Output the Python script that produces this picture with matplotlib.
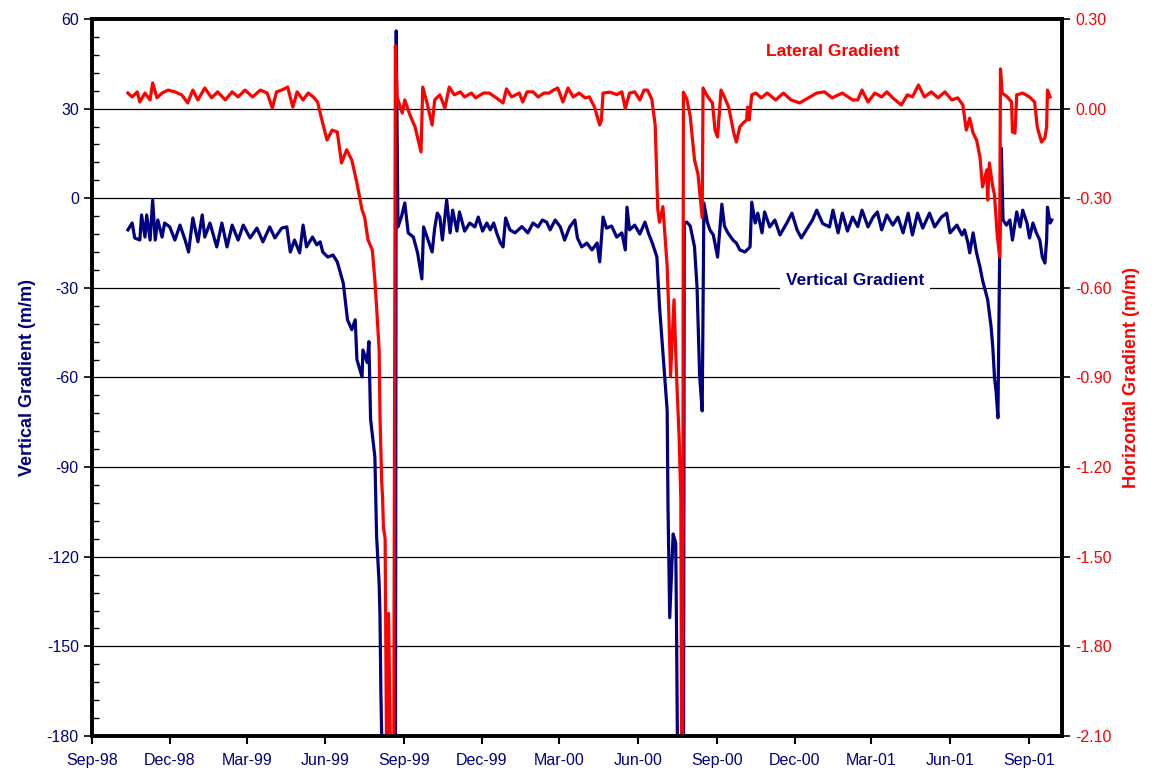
import matplotlib
matplotlib.use('Agg')
import matplotlib.pyplot as plt
import matplotlib.dates as mdates
from matplotlib.ticker import MultipleLocator, FormatStrFormatter
import pandas as pd

plt.rcParams['font.family'] = ['Liberation Sans', 'DejaVu Sans']
plt.rcParams['axes.unicode_minus'] = False

START = pd.Timestamp('1998-09-01')
END = pd.Timestamp('2001-10-10')

# vertical gradient (left axis), days counted from START
vert_days = [42, 47, 50, 56, 58, 62, 64, 68, 71, 74, 77, 82, 85, 91, 97, 103, 109, 113, 118,
             124, 129, 132, 138, 146, 152, 158, 164, 171, 177, 185, 193, 200, 208, 214, 222,
             228, 232, 237, 243, 247, 251, 258, 263, 267, 270, 276, 282, 287, 292, 294, 299,
             304, 308, 310, 316, 317, 322, 324, 326, 331, 333, 336, 337, 338, 340, 345, 355,
             356, 358, 362, 366, 370, 376, 381, 386, 388, 392, 398, 401, 404, 407, 410, 415,
             419, 422, 427, 430, 436, 442, 448, 452, 457, 462, 466, 470, 474, 478, 481, 484,
             489, 495, 503, 510, 516, 522, 527, 532, 536, 542, 548, 553, 559, 565, 568, 573,
             579, 585, 591, 594, 598, 602, 608, 614, 620, 624, 626, 629, 635, 641, 647, 651,
             656, 661, 664, 667, 670, 673, 674, 676, 680, 683, 684, 686, 692, 693, 696, 700,
             705, 708, 711, 714, 716, 720, 723, 727, 732, 737, 740, 744, 750, 754, 758, 764,
             770, 772, 776, 779, 784, 787, 793, 799, 805, 813, 819, 825, 830, 836, 843, 848,
             855, 863, 867, 873, 878, 884, 890, 896, 901, 908, 914, 919, 924, 930, 937, 943,
             949, 955, 960, 966, 972, 980, 986, 994, 1000, 1004, 1012, 1018, 1021, 1025, 1027,
             1031, 1035, 1039, 1042, 1048, 1052, 1054, 1056, 1058, 1060, 1062, 1064, 1066,
             1070, 1074, 1077, 1082, 1086, 1089, 1094, 1097, 1101, 1105, 1109, 1112, 1115,
             1117, 1118, 1121, 1123]
vert_vals = [-10.6, -8.3, -13.3, -14, -5.6, -13, -5.6, -14, -0.6, -14, -7.3, -13, -8.3, -9.6,
             -14, -9, -14, -18, -6.6, -14.6, -5.6, -13, -8.3, -16.3, -8.3, -16.3, -9, -14, -9,
             -13.3, -10, -14.6, -9.6, -13.3, -10, -9.6, -18, -14, -18.3, -9, -16.3, -13, -15.6,
             -14.6, -18, -19.7, -19, -21.3, -26.4, -28.4, -40.7, -44, -40.7, -54, -59.8, -50.8,
             -55, -48, -74, -86.6, -113, -129, -140, -165, -195, -220, -220,
             56, -9.6, -6.3, -1.6, -11.6, -13, -18.3, -27, -9.6, -13, -18, -10, -5, -6.3, -14,
             -0.6, -11.6, -4, -11, -4.6, -11, -8.3, -9.6, -6.3, -11, -8.3, -10.6, -8.3, -12,
             -15, -16.3, -6.6, -10.6, -11.6, -9.5, -11.6, -8.3, -9.6, -7.3, -8, -10.6, -7.3,
             -9.6, -14, -9.6, -7.3, -13.3, -16.3, -15, -17.3, -15, -21.3, -6.3, -10, -9.3, -13,
             -11.6, -17.3, -3, -10.6, -9, -12, -8, -11.6, -15.3, -19.7, -36, -47.8, -59.5, -71,
             -103.6, -140.4, -112.4, -115.4, -144.8, -220, -220, -8.3, -8, -9.3, -16.3, -30,
             -59.5, -71.2, -1.6, -8, -10.6, -12.3, -19.7, -2, -9.3, -11.6, -14, -15, -17.3, -18,
             -16.3, -1.3, -8.3, -5, -11.6, -4.6, -9.6, -7.3, -12.3, -8.3, -5, -10.6, -13.3,
             -10.5, -7.3, -4, -8.5, -9.6, -4, -11.6, -5, -11, -6.3, -9.5, -4, -9.6, -6.3, -4.6,
             -10.6, -5.6, -9, -6.3, -11.6, -5, -12.3, -5, -10, -5, -9.6, -6.3, -5, -11.6, -9,
             -12.3, -10.6, -15, -18.3, -11.6, -18.3, -23, -27.4, -34, -43, -49.8, -60, -65,
             -73.5, -19.7, 16.8, -7.3, -9, -7.3, -14, -4.6, -9.6, -4, -8.3, -13.3, -8.3, -11.6,
             -14, -19.7, -21.7, -14, -3, -8.3, -7.3]

# lateral gradient (right axis), days counted from START
lat_days = [42, 47, 53, 56, 62, 68, 71, 76, 82, 89, 97, 105, 112, 118, 124, 132, 140, 147,
            156, 164, 171, 179, 188, 197, 205, 211, 216, 222, 229, 235, 240, 247, 253, 259,
            264, 269, 275, 281, 287, 292, 298, 304, 310, 316, 319, 323, 328, 331, 333, 336,
            337, 339, 340, 341, 343, 345, 347, 350, 353, 355, 357, 363, 366, 372, 378, 385,
            387, 392, 398, 401, 407, 413, 418, 424, 431, 436, 444, 449, 458, 465, 473, 481,
            485, 491, 500, 504, 509, 516, 522, 529, 535, 540, 545, 551, 557, 563, 570, 577,
            582, 588, 594, 596, 598, 606, 614, 620, 624, 629, 635, 641, 646, 650, 655, 659,
            662, 664, 668, 673, 675, 677, 681, 684, 687, 689, 690, 691, 692, 696, 700, 705,
            709, 711, 714, 715, 719, 723, 726, 729, 732, 736, 740, 745, 751, 754, 758, 762,
            766, 767, 769, 772, 777, 783, 790, 800, 809, 818, 828, 848, 857, 866, 878, 890,
            896, 901, 908, 916, 924, 930, 937, 947, 954, 960, 967, 974, 982, 990, 998, 1006,
            1013, 1019, 1023, 1027, 1031, 1035, 1039, 1042, 1047, 1048, 1050, 1054, 1056,
            1059, 1062, 1063, 1065, 1071, 1076, 1077, 1080, 1082, 1089, 1097, 1103, 1106,
            1111, 1115, 1117, 1118, 1121]
lat_vals = [0.052, 0.039, 0.056, 0.022, 0.052, 0.029, 0.086, 0.036, 0.052, 0.062, 0.056,
            0.046, 0.019, 0.062, 0.029, 0.069, 0.036, 0.056, 0.029, 0.056, 0.039, 0.062,
            0.039, 0.062, 0.052, 0.002, 0.056, 0.062, 0.072, 0.005, 0.056, 0.029, 0.052,
            0.039, 0.022, -0.038, -0.105, -0.072, -0.078, -0.182, -0.138, -0.172, -0.249,
            -0.339, -0.363, -0.44, -0.473, -0.574, -0.664, -0.808, -1.03, -1.25, -1.30, -1.40,
            -1.44, -2.3, -1.69, -2.3, -2.3, 0.21, 0.039, -0.015, 0.029, -0.021, -0.061,
            -0.145, 0.072, 0.019, -0.055, 0.029, 0.046, 0.002, 0.072, 0.046, 0.056, 0.039,
            0.052, 0.036, 0.052, 0.052, 0.036, 0.019, 0.066, 0.039, 0.052, 0.022, 0.056,
            0.056, 0.039, 0.052, 0.052, 0.062, 0.069, 0.022, 0.069, 0.039, 0.052, 0.036,
            0.039, 0.005, -0.055, -0.04, 0.052, 0.055, 0.047, 0.056, 0.0, 0.052, 0.056,
            0.029, 0.062, 0.062, 0.032, -0.055, -0.336, -0.38, -0.328, -0.527, -0.689,
            -0.895, -0.64, -0.895, -1.10, -1.306, -2.3, -2.3, 0.055, 0.032, -0.026, -0.172,
            -0.218, -0.276, -0.365, 0.069, 0.047, 0.03, 0.019, -0.072, -0.095, 0.062, 0.039,
            0.005, -0.082, -0.112, -0.061, -0.048, -0.038, 0.005, -0.038, 0.046, 0.052,
            0.036, 0.052, 0.029, 0.052, 0.029, 0.019, 0.052, 0.056, 0.036, 0.052, 0.029,
            0.029, 0.062, 0.022, 0.052, 0.039, 0.056, 0.036, 0.012, 0.046, 0.039, 0.079,
            0.039, 0.056, 0.036, 0.056, 0.029, 0.036, 0.012, -0.072, -0.032, -0.082, -0.105,
            -0.162, -0.262, -0.205, -0.306, -0.182, -0.262, -0.289, -0.416, -0.497, 0.133,
            0.052, 0.039, 0.022, -0.078, -0.082, 0.046, 0.052, 0.039, 0.022, -0.061, -0.112,
            -0.098, -0.061, 0.062, 0.039]

vert_dates = START + pd.to_timedelta(vert_days, unit='D')
lat_dates = START + pd.to_timedelta(lat_days, unit='D')

NAVY = '#000080'
RED = '#ff0000'

fig = plt.figure(figsize=(11.57, 7.71), dpi=100)
ax = fig.add_axes([0.0795, 0.0454, 0.8384, 0.930])
ax2 = ax.twinx()

ax.plot(vert_dates, vert_vals, color=NAVY, lw=2.3, solid_joinstyle='round')
ax2.plot(lat_dates, lat_vals, color=RED, lw=2.3, solid_joinstyle='round')

# left axis
ax.set_ylim(-180, 60)
ax.yaxis.set_major_locator(MultipleLocator(30))
ax.yaxis.set_minor_locator(MultipleLocator(6))
ax.grid(axis='y', which='major', color='black', lw=0.9)
ax.tick_params(axis='y', which='major', direction='out', length=6, width=1.2,
               labelsize=11.5, labelcolor=NAVY)
ax.tick_params(axis='y', which='minor', direction='in', length=5, width=1.0)
ax.set_ylabel('Vertical Gradient (m/m)', color=NAVY, fontsize=13, fontweight='bold',
              labelpad=8)

# right axis
ax2.set_ylim(-2.10, 0.30)
ax2.yaxis.set_major_locator(MultipleLocator(0.30))
ax2.yaxis.set_major_formatter(FormatStrFormatter('%.2f'))
ax2.tick_params(axis='y', direction='out', length=6, width=1.2, labelsize=11.5,
                labelcolor=RED)
ax2.set_ylabel('Horizontal Gradient (m/m)', color=RED, fontsize=13, fontweight='bold',
               labelpad=8)

# date axis
ax.set_xlim(START, END)
ax.xaxis.set_major_locator(mdates.MonthLocator(bymonth=[3, 6, 9, 12]))
ax.xaxis.set_major_formatter(mdates.DateFormatter('%b-%y'))
ax.tick_params(axis='x', direction='out', length=6, width=1.5, labelsize=11.5,
               labelcolor=NAVY, pad=6)

for a in (ax, ax2):
    for s in a.spines.values():
        s.set_linewidth(2.6)
        s.set_color('black')

ax.text(pd.Timestamp('2001-02-10'), -27.7, 'Vertical Gradient', color=NAVY, fontsize=12.5,
        fontweight='bold', ha='center', va='center',
        bbox=dict(facecolor='white', edgecolor='none', pad=4))
ax2.text(pd.Timestamp('2001-01-15'), 0.19, 'Lateral Gradient', color=RED, fontsize=12.5,
         fontweight='bold', ha='center', va='center')

fig.savefig('out.png', dpi=100)
